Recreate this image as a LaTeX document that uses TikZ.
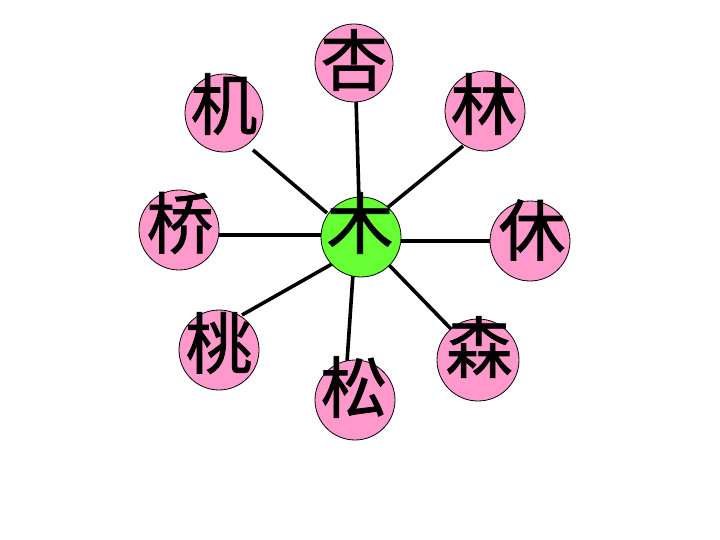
\documentclass[tikz,border=0pt]{standalone}
\usepackage{fontspec}
\newfontfamily\cjk[FakeBold=1.2]{Noto Sans CJK SC}
\definecolor{petal}{HTML}{FF99CC}
\definecolor{core}{HTML}{66FF33}
\begin{document}
\begin{tikzpicture}[x=1bp,y=-1bp,
  disc/.style={circle,draw=black,line width=0.8bp,fill=petal,minimum size=80bp,inner sep=0pt},
  coredisc/.style={disc,fill=core},
  glyph/.style={inner sep=0pt,font=\cjk\fontsize{67}{67}\selectfont},
  spoke/.style={line width=3.6bp,black}]
\useasboundingbox (0,0) rectangle (720,540);
% spoke end points
\coordinate (m1) at (359,200); \coordinate (o1) at (356,98);
\coordinate (m2) at (387,208); \coordinate (o2) at (463,146);
\coordinate (m3) at (398,241); \coordinate (o3) at (492,241);
\coordinate (m4) at (388,264); \coordinate (o4) at (453,331);
\coordinate (m5) at (353,274); \coordinate (o5) at (347,362);
\coordinate (m6) at (332,264); \coordinate (o6) at (242,315);
\coordinate (m7) at (323,235); \coordinate (o7) at (217,235);
\coordinate (m8) at (327,213); \coordinate (o8) at (253,150);
\foreach \i in {1,...,8} \draw[spoke] (m\i) -- (o\i);
% discs
\node[coredisc] (cmu) at (361,237) {};
\node[disc,minimum size=78bp] (c1) at (354,63) {};
\node[disc] (c2) at (485,111) {};
\node[disc] (c3) at (530,241) {};
\node[disc,minimum size=82bp] (c4) at (478,360) {};
\node[disc] (c5) at (355,400) {};
\node[disc] (c6) at (219,350) {};
\node[disc] (c7) at (179,230) {};
\node[disc,minimum size=78bp] (c8) at (224,113) {};
% glyphs
\node[glyph] (tmu) at (360,223) {木};
\node[glyph] (t1) at (354,60) {杏};
\node[glyph] (t2) at (484,104) {林};
\node[glyph] (t3) at (532,230) {休};
\node[glyph] (t4) at (479,347) {森};
\node[glyph] (t5) at (354,387) {松};
\node[glyph] (t6) at (219,343) {桃};
\node[glyph] (t7) at (180,223) {桥};
\node[glyph] (t8) at (224,104) {机};
\end{tikzpicture}
\end{document}
